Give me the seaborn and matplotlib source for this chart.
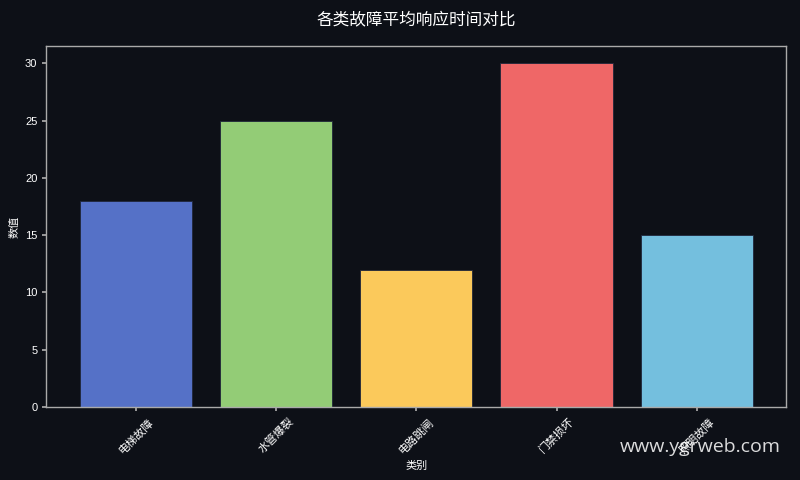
import matplotlib
matplotlib.use("Agg")
import matplotlib.pyplot as plt
import pandas as pd
import seaborn as sns

# 数据
categories = ["电梯故障", "水管爆裂", "电路跳闸", "门禁损坏", "照明故障"]
values = [18, 25, 12, 30, 15]
colors = ["#5571c7", "#93cc76", "#fbc95b", "#ef6767", "#74bfde"]

bg = "#0d1017"
sns.set_theme(style="dark")
plt.rcParams["font.family"] = ["Liberation Sans", "Noto Sans CJK SC", "DejaVu Sans"]
plt.rcParams["axes.unicode_minus"] = False

df = pd.DataFrame({"类别": categories, "数值": values})

fig, ax = plt.subplots(figsize=(8, 4.8), dpi=100)
fig.patch.set_facecolor(bg)
ax.set_facecolor(bg)

sns.barplot(data=df, x="类别", y="数值", hue="类别", palette=colors,
            legend=False, width=0.8, saturation=1, ax=ax)
# 边框颜色稍暗
for p in ax.patches:
    p.set_edgecolor("#20263a")
    p.set_linewidth(0.6)
ax.set_xlim(-0.64, 4.64)
ax.set_ylim(0, 31.5)

ax.set_title("各类故障平均响应时间对比", color="white", fontsize=12, pad=16,
             family=["Noto Sans CJK SC", "DejaVu Sans"])
ax.set_xlabel("类别", color="white", fontsize=8)
ax.set_ylabel("数值", color="white", fontsize=8)
ax.tick_params(axis="both", colors="white", labelsize=8, length=3,
               color="#aaaaaa", bottom=True, left=True)
plt.setp(ax.get_xticklabels(), rotation=45)
for s in ax.spines.values():
    s.set_color("#aaaaaa")
    s.set_linewidth(1)
ax.grid(False)

fig.subplots_adjust(left=0.058, right=0.983, top=0.904, bottom=0.152)
fig.text(0.976, 0.068, "www.ygrweb.com", color="white", fontsize=14,
         ha="right", va="center", alpha=0.85, family=["Open Sans", "DejaVu Sans"])

fig.savefig("out.png", dpi=100, facecolor=bg)
